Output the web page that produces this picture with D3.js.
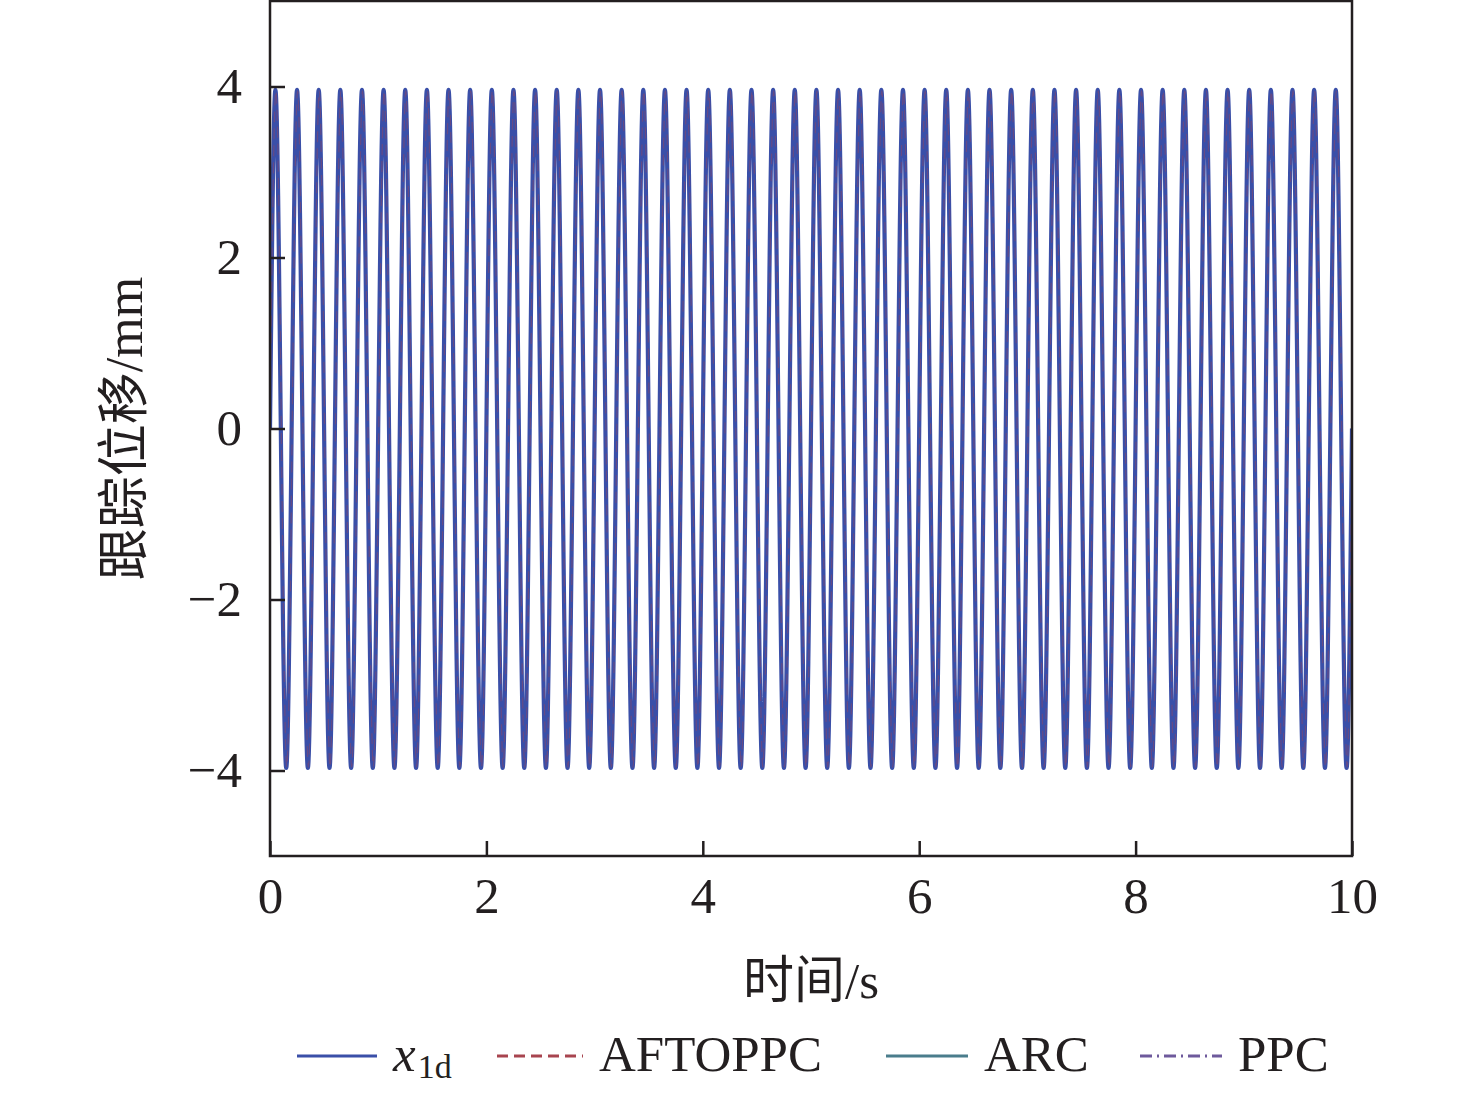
<!DOCTYPE html>
<html>
<head>
<meta charset="utf-8">
<script src="https://cdn.jsdelivr.net/npm/d3@7/dist/d3.min.js"></script>
<style>
    html, body { margin: 0; padding: 0; background: #fff; }
    svg { display: block; }
</style>
</head>
<body>
<svg id="chart"></svg>
<script>
// ---- data ----
const xTicks = [0, 2, 4, 6, 8, 10];
const yTicks = [-4, -2, 0, 2, 4];
const xDomain = [0, 10];
const yDomain = [-5, 5];

const seriesNames = ["x1d", "AFTOPPC", "ARC", "PPC"];

// 极值出现的时刻 (s)
const peakTimes = [0.05, 0.25, 0.45, 0.65, 0.85, 1.05, 1.25, 1.45, 1.65, 1.85,
    2.05, 2.25, 2.45, 2.65, 2.85, 3.05, 3.25, 3.45, 3.65, 3.85,
    4.05, 4.25, 4.45, 4.65, 4.85, 5.05, 5.25, 5.45, 5.65, 5.85,
    6.05, 6.25, 6.45, 6.65, 6.85, 7.05, 7.25, 7.45, 7.65, 7.85,
    8.05, 8.25, 8.45, 8.65, 8.85, 9.05, 9.25, 9.45, 9.65, 9.85];
const troughTimes = [0.15, 0.35, 0.55, 0.75, 0.95, 1.15, 1.35, 1.55, 1.75, 1.95,
    2.15, 2.35, 2.55, 2.75, 2.95, 3.15, 3.35, 3.55, 3.75, 3.95,
    4.15, 4.35, 4.55, 4.75, 4.95, 5.15, 5.35, 5.55, 5.75, 5.95,
    6.15, 6.35, 6.55, 6.75, 6.95, 7.15, 7.35, 7.55, 7.75, 7.95,
    8.15, 8.35, 8.55, 8.75, 8.95, 9.15, 9.35, 9.55, 9.75, 9.95];

// per series: value at start, at peaks, at troughs, at end, and small time lag
const startValues  = [0, 0, 0, 0];
const peakValues   = [3.96, 3.95, 3.96, 3.95];
const troughValues = [-3.97, -3.96, -3.97, -3.96];
const endValues    = [0, 0, 0, 0];
const seriesLag    = [0, 0.005, 0.001, 0.002];

// ---- layout / style ----
const config = {
    width: 1476, height: 1093,
    plot: { left: 270, right: 1352, top: 1, bottom: 856 },
    font: '"Liberation Serif", "Times New Roman", serif',
    cjk: '"Liberation Serif", "Noto Sans CJK SC", serif',
    fontSize: 51,
    axisColor: "#231f20",
    styles: {
        x1d:     { color: "#3a4fa8", width: 4.2, dash: null, opacity: 1 },
        AFTOPPC: { color: "#a8444f", width: 1.2, dash: "11 6", opacity: 0.4 },
        ARC:     { color: "#4a7d8c", width: 2.5, dash: null, opacity: 1 },
        PPC:     { color: "#6e5a9c", width: 2,   dash: "12 5 2 5", opacity: 1 }
    },
    drawOrder: ["ARC", "PPC", "x1d", "AFTOPPC"],
    legend: { y: 1056, lineX: [297, 497, 886, 1140], lineLen: [80, 86, 82, 82], gap: 16 }
};

const svg = d3.select("#chart")
    .attr("width", config.width)
    .attr("height", config.height);

const p = config.plot;
const x = d3.scaleLinear().domain(xDomain).range([p.left, p.right]);
const y = d3.scaleLinear().domain(yDomain).range([p.bottom, p.top]);

// build each series' points from the typed extremes
function seriesPoints(i) {
    const ext = peakTimes.map(t => ({ t: t + seriesLag[i], v: peakValues[i] }))
        .concat(troughTimes.map(t => ({ t: t + seriesLag[i], v: troughValues[i] })))
        .sort((a, b) => a.t - b.t);
    return [{ t: xDomain[0], v: startValues[i] }, ...ext, { t: xDomain[1], v: endValues[i] }];
}

svg.append("clipPath").attr("id", "plot-clip")
    .append("rect")
    .attr("x", p.left).attr("y", p.top)
    .attr("width", p.right - p.left).attr("height", p.bottom - p.top);

const line = d3.line()
    .x(d => x(d.t))
    .y(d => y(d.v))
    .curve(d3.curveMonotoneX);

const lines = svg.append("g").attr("clip-path", "url(#plot-clip)");
config.drawOrder.forEach(name => {
    const i = seriesNames.indexOf(name);
    const s = config.styles[name];
    lines.append("path")
        .datum(seriesPoints(i))
        .attr("fill", "none")
        .attr("stroke", s.color)
        .attr("stroke-width", s.width)
        .attr("stroke-opacity", s.opacity)
        .attr("stroke-dasharray", s.dash)
        .attr("stroke-linejoin", "round")
        .attr("d", line);
});

// frame
svg.append("rect")
    .attr("x", p.left).attr("y", p.top)
    .attr("width", p.right - p.left).attr("height", p.bottom - p.top)
    .attr("fill", "none")
    .attr("stroke", config.axisColor)
    .attr("stroke-width", 2.5);

// axes, ticks inside
const xAxis = g => g.attr("transform", `translate(0, ${p.bottom})`)
    .call(d3.axisBottom(x).tickValues(xTicks).tickSizeInner(-15).tickSizeOuter(0).tickPadding(21))
    .call(g => g.select(".domain").remove());
const yAxis = g => g.attr("transform", `translate(${p.left}, 0)`)
    .call(d3.axisLeft(y).tickValues(yTicks).tickSizeInner(-15).tickSizeOuter(0).tickPadding(28))
    .call(g => g.select(".domain").remove());

[svg.append("g").call(xAxis), svg.append("g").call(yAxis)].forEach(g => {
    g.selectAll("line").attr("stroke", config.axisColor).attr("stroke-width", 2.5);
    g.selectAll("text")
        .attr("font-family", config.font)
        .attr("font-size", config.fontSize)
        .attr("fill", config.axisColor);
});

// axis titles
svg.append("text")
    .attr("x", (p.left + p.right) / 2)
    .attr("y", 998)
    .attr("text-anchor", "middle")
    .attr("font-family", config.cjk)
    .attr("font-size", config.fontSize)
    .attr("fill", config.axisColor)
    .text("时间/s");

svg.append("text")
    .attr("transform", `translate(142, ${(p.top + p.bottom) / 2}) rotate(-90)`)
    .attr("text-anchor", "middle")
    .attr("font-family", config.cjk)
    .attr("font-size", config.fontSize + 1)
    .attr("fill", config.axisColor)
    .text("跟踪位移/mm");

// legend
const lg = config.legend;
seriesNames.forEach((name, i) => {
    const s = config.styles[name];
    const x0 = lg.lineX[i], x1 = x0 + lg.lineLen[i];
    svg.append("line")
        .attr("x1", x0).attr("x2", x1)
        .attr("y1", lg.y).attr("y2", lg.y)
        .attr("stroke", s.color)
        .attr("stroke-width", 3)
        .attr("stroke-dasharray", s.dash);

    const t = svg.append("text")
        .attr("x", x1 + lg.gap)
        .attr("y", lg.y + 15)
        .attr("font-family", config.font)
        .attr("font-size", config.fontSize)
        .attr("fill", config.axisColor);
    if (name === "x1d") {
        t.append("tspan").attr("font-style", "italic").text("x");
        t.append("tspan").attr("font-size", 34).attr("dy", 7).attr("dx", 2).text("1d");
    } else {
        t.text(name);
    }
});
</script>
</body>
</html>
